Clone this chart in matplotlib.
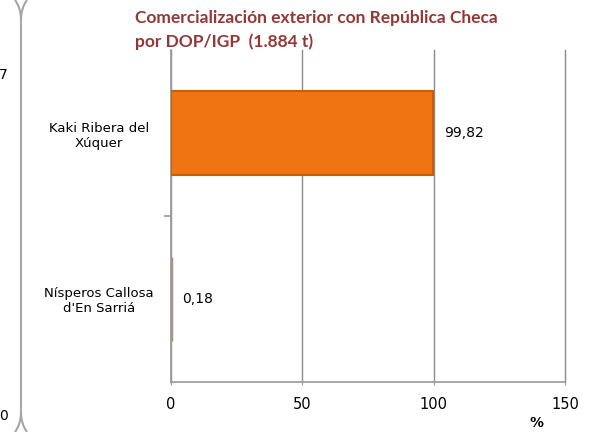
import matplotlib
matplotlib.use("Agg")
import matplotlib.pyplot as plt
from matplotlib.path import Path
from matplotlib.patches import PathPatch

plt.rcParams["font.family"] = ["DejaVu Sans"]

categories = ["Nísperos Callosa\nd'En Sarriá", "Kaki Ribera del\nXúquer"]
values = [0.18, 99.82]
labels = ["0,18", "99,82"]
bar_colors = ["#a89484", "#f07512"]
edge_colors = ["#a89484", "#c45f0c"]
xticks = [0, 50, 100, 150]
title = "Comercialización exterior con República Checa\npor DOP/IGP  (1.884 t)"

W, H = 589, 432
fig = plt.figure(figsize=(W / 100, H / 100), dpi=100)

ax = fig.add_axes([171 / W, 1 - 382 / H, (565 - 171) / W, (382 - 50) / H])
y = list(range(len(categories)))
bars = ax.barh(y, values, height=0.51, color=bar_colors, edgecolor=edge_colors, linewidth=1.5, zorder=3)
bars[0].set_linewidth(2.5)
ax.set_xlim(0, 150)
ax.set_ylim(-0.5, 1.5)
ax.set_xticks(xticks)
ax.set_xticklabels([str(t) for t in xticks], fontsize=10.5)
ax.set_yticks(y)
ax.set_yticklabels(categories, fontsize=9.5, ha="center")
ax.tick_params(axis="y", length=0, pad=52)
ax.tick_params(axis="x", length=5, color="#999999", pad=8, direction="inout")
ax.set_yticks([0.5], minor=True)
ax.tick_params(axis="y", which="minor", length=5, width=1.2, color="#999999", direction="out")
ax.grid(axis="x", color="#8c8c8c", linewidth=1.0, zorder=0)
for gl in ax.get_xgridlines():
    gl.set_clip_on(False)
for s in ["top", "right"]:
    ax.spines[s].set_visible(False)
ax.spines["left"].set_color("#999999")
ax.spines["bottom"].set_color("#999999")
ax.spines["left"].set_linewidth(1.2)
ax.spines["bottom"].set_linewidth(1.2)

for yi, v, lab in zip(y, values, labels):
    ax.text(v + 4, yi, lab, va="center", ha="left", fontsize=10)

fig.text(536 / W, 1 - 423 / H, "%", fontsize=10, fontweight="bold", ha="center", va="center")

fig.text(135 / W, 1 - 30 / H, title, color="#953735", fontsize=12.5, fontweight="bold",
         family="Lato", ha="left", va="center", linespacing=1.55)

# left bracket decoration and fragments of neighbouring chart
verts = [(27 / W, 1.0), (21 / W, 1 - 8 / H), (21 / W, 1 - 20 / H),
         (21 / W, 1 - 412 / H), (21 / W, 1 - 424 / H), (27 / W, 0.0)]
codes = [Path.MOVETO, Path.CURVE3, Path.CURVE3, Path.LINETO, Path.CURVE3, Path.CURVE3]
fig.add_artist(PathPatch(Path(verts, codes), transform=fig.transFigure, fill=False,
                         edgecolor="#a6a6a6", linewidth=1.5))
verts2 = [(15 / W, 1.0), (21 / W, 1 - 8 / H), (21 / W, 1 - 20 / H)]
fig.add_artist(PathPatch(Path(verts2, [Path.MOVETO, Path.CURVE3, Path.CURVE3]),
                         transform=fig.transFigure, fill=False, edgecolor="#a6a6a6", linewidth=1.5))
verts3 = [(21 / W, 1 - 412 / H), (21 / W, 1 - 424 / H), (15 / W, 0.0)]
fig.add_artist(PathPatch(Path(verts3, [Path.MOVETO, Path.CURVE3, Path.CURVE3]),
                         transform=fig.transFigure, fill=False, edgecolor="#a6a6a6", linewidth=1.5))
fig.text(8 / W, 1 - 75 / H, "7", fontsize=10, ha="right", va="center")
fig.text(8 / W, 1 - 416 / H, "0", fontsize=10, ha="right", va="center")

fig.savefig("out.png", dpi=100)
